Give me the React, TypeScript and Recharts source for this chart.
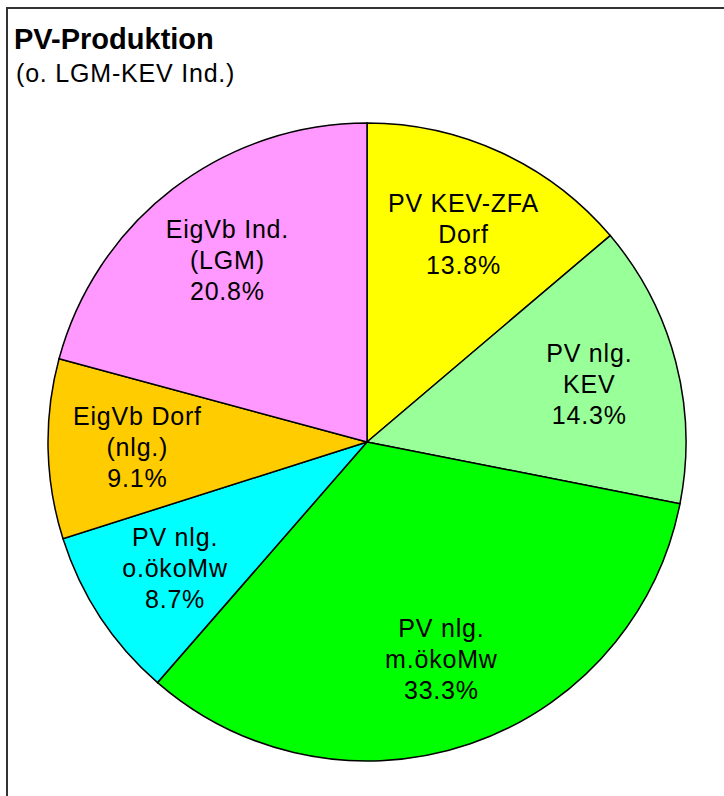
import { PieChart, Pie, Cell } from 'recharts';

const categories = [
  'PV KEV-ZFA\nDorf',
  'PV nlg.\nKEV',
  'PV nlg.\nm.ökoMw',
  'PV nlg.\no.ökoMw',
  'EigVb Dorf\n(nlg.)',
  'EigVb Ind.\n(LGM)',
];
const shares = [13.8, 14.3, 33.3, 8.7, 9.1, 20.8];
const colors = ['#FFFF00', '#99FF99', '#00FF00', '#00FFFF', '#FFCC00', '#FF99FF'];

const chartData = categories.map((name, i) => ({ name, value: shares[i] }));

const FONT = '"Liberation Sans", Arial, sans-serif';
const RADIAN = Math.PI / 180;

const renderLabel = ({ cx, cy, midAngle, outerRadius, index }: any) => {
  const r = outerRadius * 0.72;
  const x = cx + r * Math.cos(-midAngle * RADIAN);
  const y = cy + r * Math.sin(-midAngle * RADIAN);
  const lines = [...categories[index].split('\n'), `${shares[index].toFixed(1)}%`];
  const step = 31;
  const base = y + 9 - step;
  return (
    <text
      x={x}
      y={base}
      textAnchor="middle"
      fontFamily={FONT}
      fontSize={25}
      letterSpacing={0.8}
      fill="#000"
    >
      {lines.map((line, i) => (
        <tspan key={i} x={x} y={base + i * step}>
          {line}
        </tspan>
      ))}
    </text>
  );
};

export default function App() {
  return (
    <div
      style={{
        position: 'absolute',
        left: 6,
        top: 7,
        width: 718,
        height: 789,
        borderLeft: '2px solid #333',
        borderTop: '2px solid #333',
        background: '#fff',
        overflow: 'hidden',
      }}
    >
      <div
        style={{
          position: 'absolute',
          left: 6,
          top: 14,
          fontFamily: FONT,
          fontWeight: 'bold',
          fontSize: 29,
          lineHeight: '32px',
          color: '#000',
          whiteSpace: 'nowrap',
        }}
      >
        PV-Produktion
      </div>
      <div
        style={{
          position: 'absolute',
          left: 8,
          top: 50,
          fontFamily: FONT,
          fontSize: 25,
          letterSpacing: 0.8,
          lineHeight: '28px',
          color: '#000',
          whiteSpace: 'nowrap',
        }}
      >
        (o. LGM-KEV Ind.)
      </div>
      <PieChart width={716} height={787} margin={{ top: 0, right: 0, bottom: 0, left: 0 }}>
        <Pie
          data={chartData}
          dataKey="value"
          cx={359}
          cy={433}
          outerRadius={319}
          startAngle={90}
          endAngle={-270}
          stroke="#000"
          strokeWidth={1.5}
          labelLine={false}
          label={renderLabel}
          isAnimationActive={false}
        >
          {chartData.map((entry, index) => (
            <Cell key={`cell-${index}`} fill={colors[index]} />
          ))}
        </Pie>
      </PieChart>
    </div>
  );
}
